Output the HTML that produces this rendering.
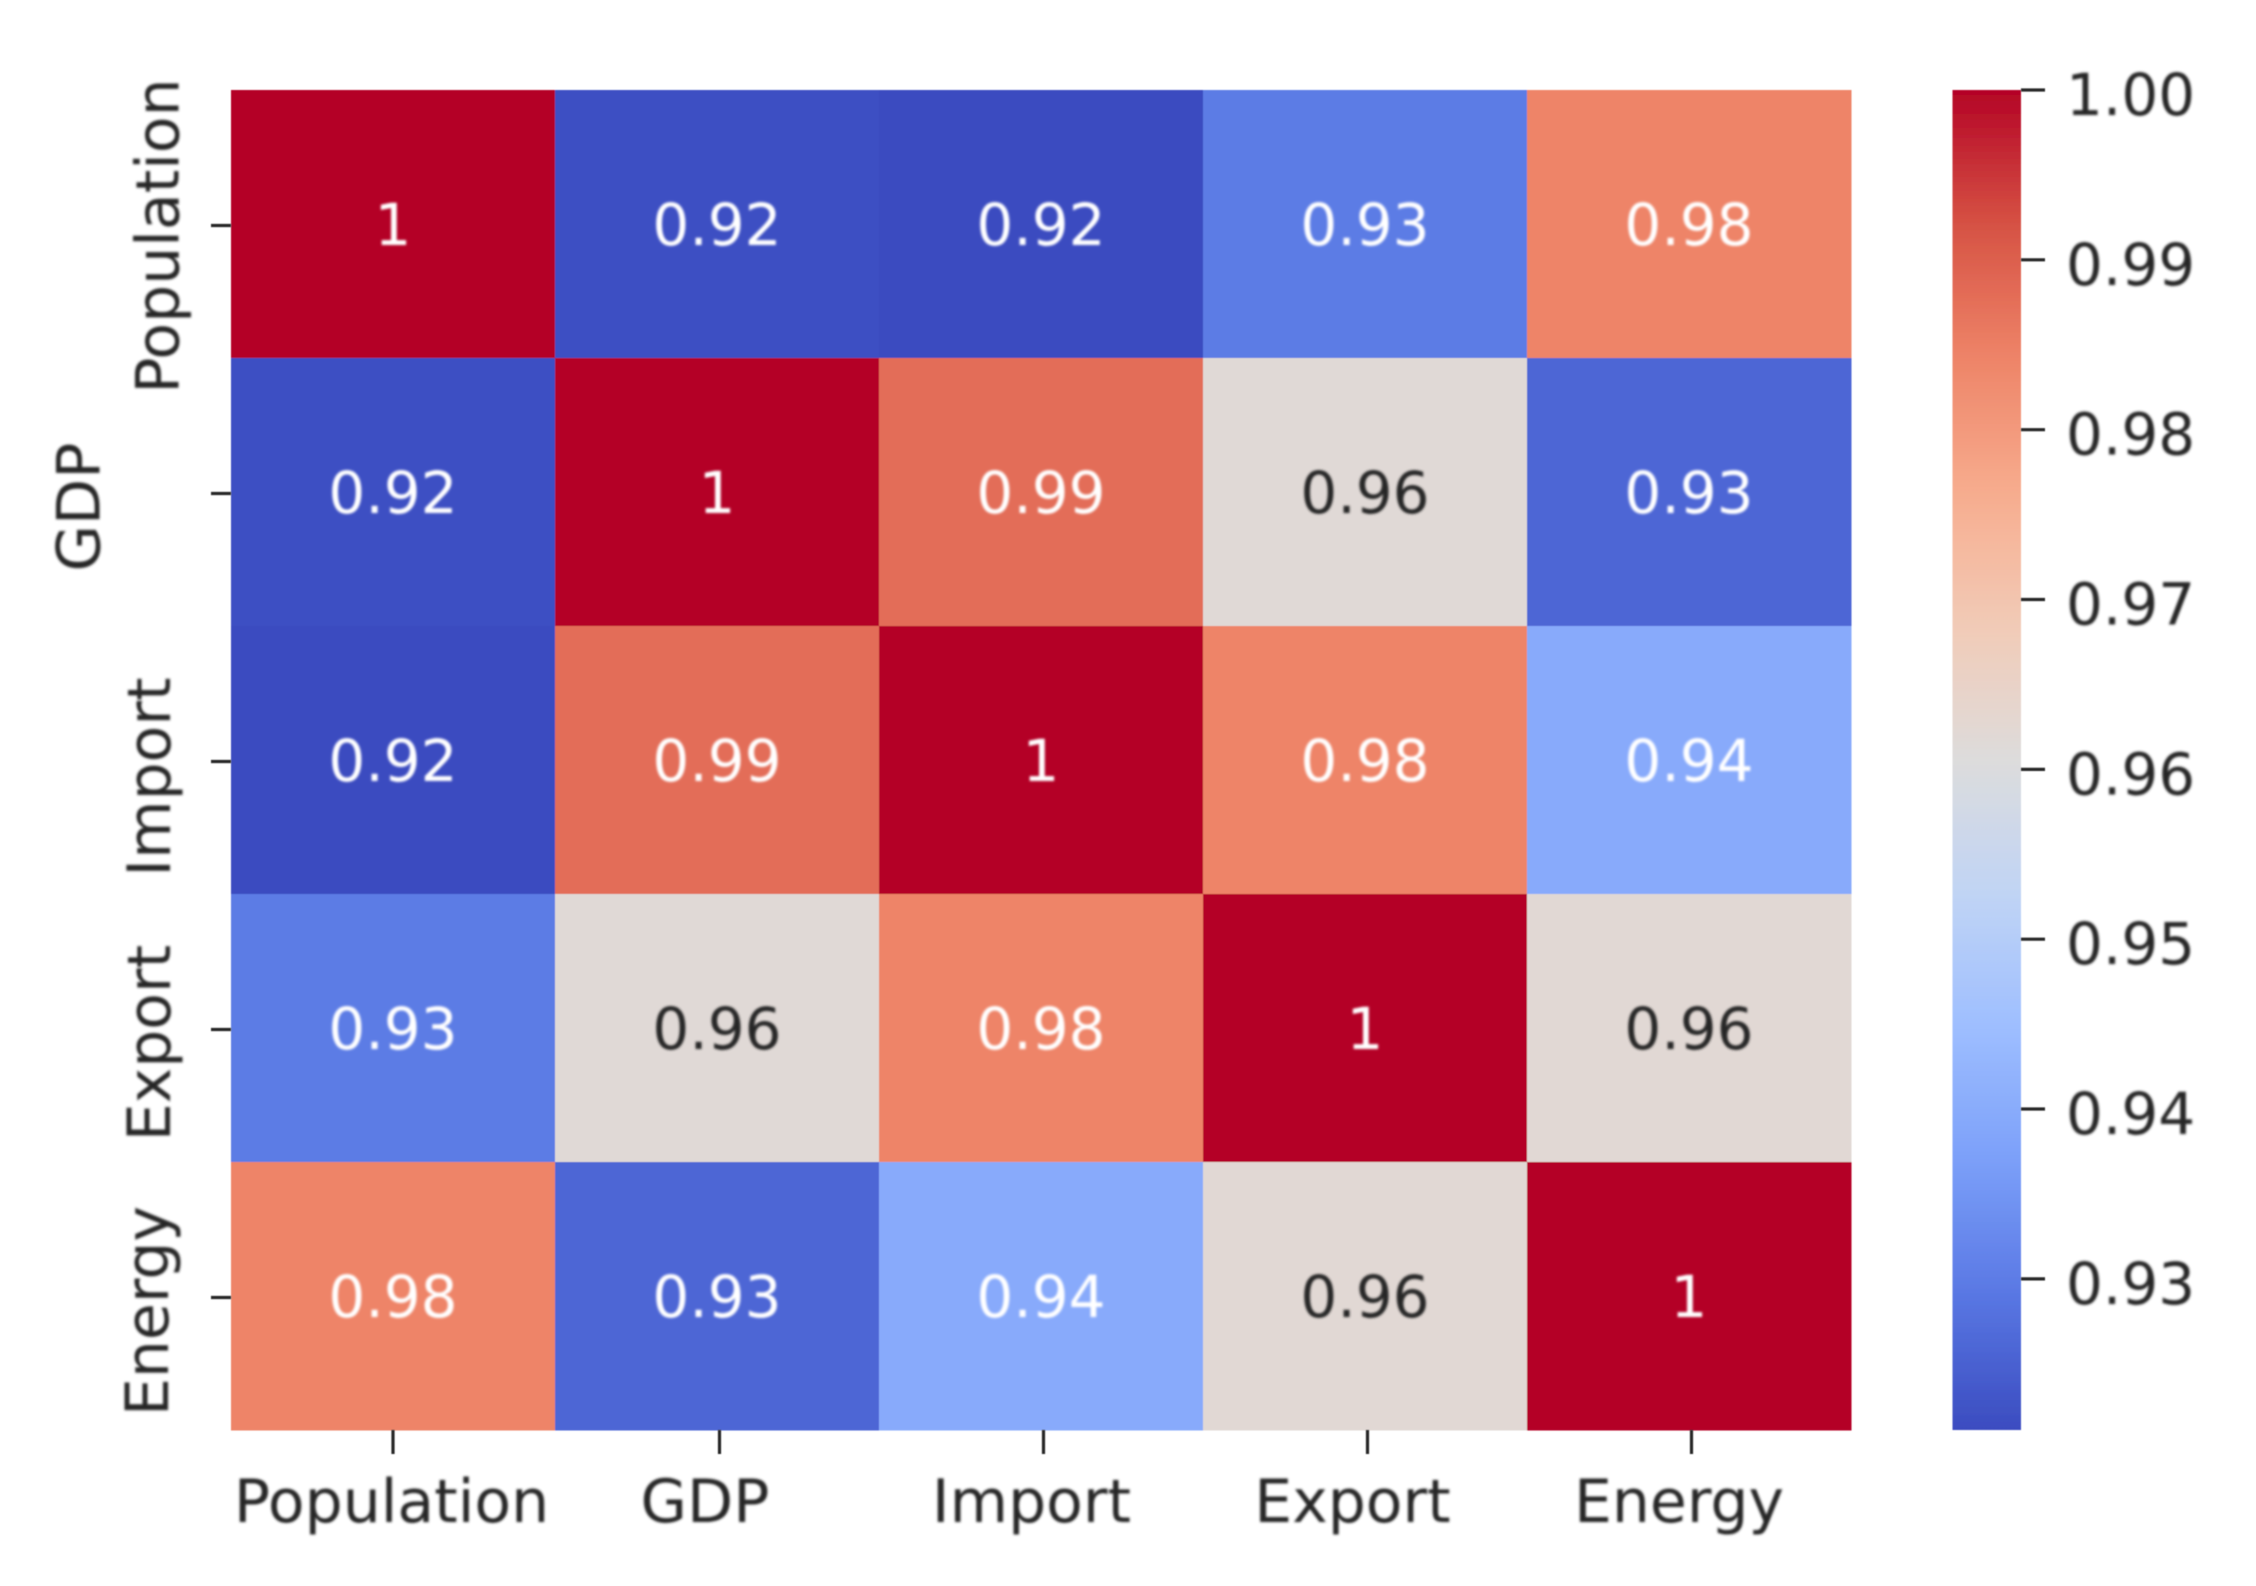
<!DOCTYPE html>
<html lang="en">
<head>
<meta charset="utf-8">
<title>Correlation heatmap</title>
<style>
  html, body { margin: 0; padding: 0; background: #fff; }
  #chart { display: block; width: 2256px; height: 1586px; font-family: "DejaVu Sans", "Liberation Sans", sans-serif; }
  .axis-text { font-size: 60px; fill: #262626; }
  .cbar-text { font-size: 58px; fill: #262626; }
  .note { font-size: 58px; text-anchor: middle; dominant-baseline: auto; }
</style>
</head>
<body>
<svg id="chart" xmlns="http://www.w3.org/2000/svg" width="2256" height="1586" viewBox="0 0 2256 1586">
  <defs>
    <filter id="soft" x="-5%" y="-5%" width="110%" height="110%"><feGaussianBlur stdDeviation="1.3"/></filter>
    <filter id="edge" x="-5%" y="-5%" width="110%" height="110%"><feGaussianBlur stdDeviation="0.6"/></filter>
    <linearGradient id="cbar-gradient" x1="0" y1="1" x2="0" y2="0"></linearGradient>
  </defs>
  <rect x="0" y="0" width="2256" height="1586" fill="#ffffff"/>
  <g id="plot">
    <g id="cells" filter="url(#edge)"></g>
    <g id="notes" filter="url(#soft)"></g>
    <g id="ticks" filter="url(#edge)"></g>
    <g filter="url(#soft)">
      <text class="axis-text" x="391.5" y="1522" text-anchor="middle">Population</text>
      <text class="axis-text" x="705" y="1522" text-anchor="middle">GDP</text>
      <text class="axis-text" x="1031.5" y="1522" text-anchor="middle">Import</text>
      <text class="axis-text" x="1352.5" y="1522" text-anchor="middle">Export</text>
      <text class="axis-text" x="1679" y="1522" text-anchor="middle">Energy</text>
    </g>
    <g filter="url(#soft)">
      <text class="axis-text" transform="translate(178.5,236) rotate(-90)" text-anchor="middle">Population</text>
      <text class="axis-text" transform="translate(99.5,507) rotate(-90)" text-anchor="middle">GDP</text>
      <text class="axis-text" transform="translate(170,777) rotate(-90)" text-anchor="middle">Import</text>
      <text class="axis-text" transform="translate(170,1043) rotate(-90)" text-anchor="middle">Export</text>
      <text class="axis-text" transform="translate(168,1311) rotate(-90)" text-anchor="middle">Energy</text>
    </g>
    <rect id="cbar" fill="url(#cbar-gradient)" filter="url(#edge)"/>
    <g id="cbar-ticks" filter="url(#edge)"></g>
    <g id="cbar-labels" filter="url(#soft)"></g>
  </g>
</svg>
<script>
const categories = ["Population", "GDP", "Import", "Export", "Energy"];
const rowPopulation = [1, 0.9218, 0.9211, 0.9298, 0.9842];
const rowGdp = [0.9218, 1, 0.9878, 0.9618, 0.9258];
const rowImport = [0.9211, 0.9878, 1, 0.9842, 0.9398];
const rowExport = [0.9298, 0.9618, 0.9842, 1, 0.9622];
const rowEnergy = [0.9842, 0.9258, 0.9398, 0.9622, 1];
const colorbarTicks = ["1.00", "0.99", "0.98", "0.97", "0.96", "0.95", "0.94", "0.93"];
const coolwarmStops = ["#3b4cc0", "#5977e3", "#7b9ff9", "#9ebeff", "#c0d4f5", "#dddcdc", "#f2cbb7", "#f7ac8e", "#ee8468", "#d65244", "#b40426"];

const matrix = [rowPopulation, rowGdp, rowImport, rowExport, rowEnergy];
const SVG_NS = "http://www.w3.org/2000/svg";
const plotLeft = 231, plotRight = 1851, plotTop = 90, plotBottom = 1430;
const cbarLeft = 1952.5, cbarRight = 2021;
const allValues = matrix.flat();
const colorMin = Math.min.apply(null, allValues);
const colorMax = Math.max.apply(null, allValues);

function hexToRgb(hex) {
  return [1, 3, 5].map(function (i) { return parseInt(hex.substr(i, 2), 16); });
}
function coolwarm(t) {
  const clamped = Math.max(0, Math.min(1, t));
  const pos = clamped * (coolwarmStops.length - 1);
  const i = Math.min(Math.floor(pos), coolwarmStops.length - 2);
  const f = pos - i;
  const a = hexToRgb(coolwarmStops[i]);
  const b = hexToRgb(coolwarmStops[i + 1]);
  return [0, 1, 2].map(function (k) { return Math.round(a[k] + (b[k] - a[k]) * f); });
}
function norm(v) { return (v - colorMin) / (colorMax - colorMin); }
function colOf(i) { return plotLeft + (plotRight - plotLeft) * i / categories.length; }
function rowOf(i) { return plotTop + (plotBottom - plotTop) * i / categories.length; }
function cbarY(v) { return plotBottom - norm(v) * (plotBottom - plotTop); }
function rgbStr(c) { return "rgb(" + c[0] + "," + c[1] + "," + c[2] + ")"; }
function luminance(c) {
  const lin = c.map(function (x) {
    const s = x / 255;
    return s <= 0.03928 ? s / 12.92 : Math.pow((s + 0.055) / 1.055, 2.4);
  });
  return 0.2126 * lin[0] + 0.7152 * lin[1] + 0.0722 * lin[2];
}
function make(tag, parentId) {
  const el = document.createElementNS(SVG_NS, tag);
  document.getElementById(parentId).appendChild(el);
  return el;
}

matrix.forEach(function (row, r) {
  row.forEach(function (value, c) {
    const color = coolwarm(norm(value));
    const cell = make("rect", "cells");
    cell.setAttribute("x", colOf(c));
    cell.setAttribute("y", rowOf(r));
    cell.setAttribute("width", colOf(c + 1) - colOf(c) + 0.5);
    cell.setAttribute("height", rowOf(r + 1) - rowOf(r) + 0.5);
    cell.setAttribute("fill", rgbStr(color));
    
    

    const note = make("text", "notes");
    note.setAttribute("class", "note");
    note.setAttribute("x", (colOf(c) + colOf(c + 1)) / 2);
    note.setAttribute("y", (rowOf(r) + rowOf(r + 1)) / 2 + 21);
    note.setAttribute("fill", luminance(color) > 0.5 ? "#262626" : "#ffffff");
    note.textContent = value === 1 ? "1" : value.toFixed(2);
    
    
  });
});

categories.forEach(function (name, i) {
  const xTick = make("line", "ticks");
  const tx = (colOf(i) + colOf(i + 1)) / 2 + (i > 0 ? 2.5 : 0);
  xTick.setAttribute("x1", tx);
  xTick.setAttribute("x2", tx);
  xTick.setAttribute("y1", plotBottom);
  xTick.setAttribute("y2", plotBottom + 24);
  xTick.setAttribute("stroke", "#262626");
  xTick.setAttribute("stroke-width", "3.2");
  
  

  const yTick = make("line", "ticks");
  const ty = (rowOf(i) + rowOf(i + 1)) / 2 + 1.5;
  yTick.setAttribute("y1", ty);
  yTick.setAttribute("y2", ty);
  yTick.setAttribute("x1", plotLeft);
  yTick.setAttribute("x2", plotLeft - 20);
  yTick.setAttribute("stroke", "#262626");
  yTick.setAttribute("stroke-width", "3.2");
  
  
});

const gradient = document.getElementById("cbar-gradient");
for (let i = 0; i <= 64; i++) {
  const stop = document.createElementNS(SVG_NS, "stop");
  stop.setAttribute("offset", i / 64);
  stop.setAttribute("stop-color", rgbStr(coolwarm(i / 64)));
  gradient.appendChild(stop);
}
const bar = document.getElementById("cbar");
bar.setAttribute("x", cbarLeft);
bar.setAttribute("y", plotTop);
bar.setAttribute("width", cbarRight - cbarLeft);
bar.setAttribute("height", plotBottom - plotTop);

colorbarTicks.forEach(function (label) {
  const y = cbarY(parseFloat(label));
  const tick = make("line", "cbar-ticks");
  tick.setAttribute("x1", cbarRight);
  tick.setAttribute("x2", cbarRight + 24);
  tick.setAttribute("y1", y);
  tick.setAttribute("y2", y);
  tick.setAttribute("stroke", "#262626");
  tick.setAttribute("stroke-width", "3.2");
  
  

  const text = make("text", "cbar-labels");
  text.setAttribute("class", "cbar-text");
  text.setAttribute("x", 2066);
  text.setAttribute("y", y + 25);
  text.textContent = label;
  
  
});
</script>
</body>
</html>
